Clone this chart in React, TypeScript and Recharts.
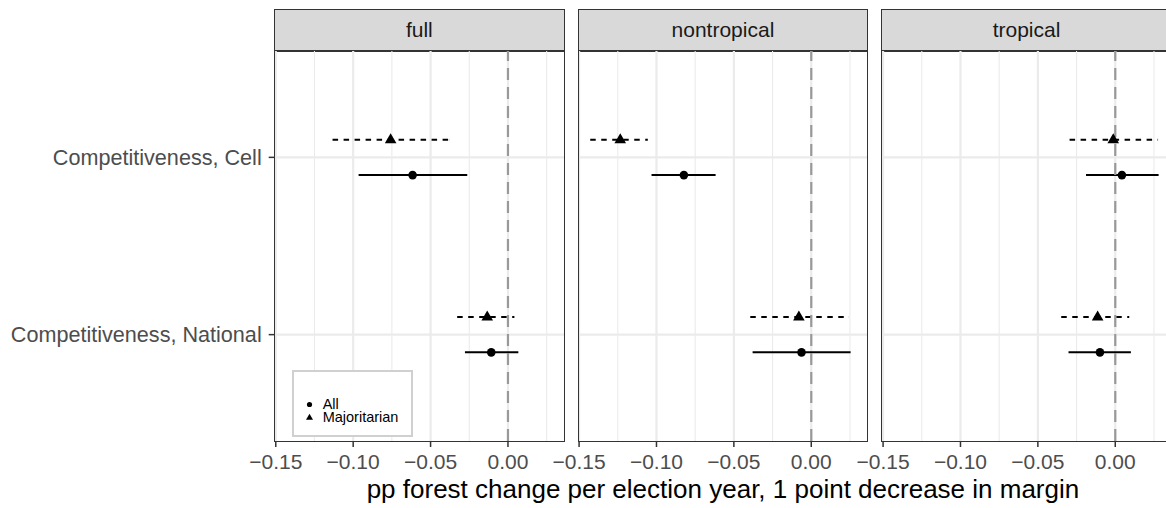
import React from "react";
import {
  ScatterChart,
  Scatter,
  XAxis,
  YAxis,
  CartesianGrid,
  ErrorBar,
  ReferenceLine,
} from "recharts";

const facets = ["full", "nontropical", "tropical"];
const terms = ["Competitiveness, Cell", "Competitiveness, National"];
const termPos = [2, 1];
const groups = ["All", "Majoritarian"];

// per facet, values ordered [Cell, National]
const allEst = [[-0.0616, -0.0108], [-0.0823, -0.0063], [0.0043, -0.0099]];
const allLo = [[-0.0965, -0.0278], [-0.1032, -0.0379], [-0.0189, -0.0302]];
const allHi = [[-0.0263, 0.0067], [-0.0618, 0.0254], [0.028, 0.0101]];
const majEst = [[-0.0758, -0.0134], [-0.1234, -0.008], [-0.0013, -0.0114]];
const majLo = [[-0.1133, -0.0328], [-0.1428, -0.0394], [-0.0295, -0.0349]];
const majHi = [[-0.0381, 0.0041], [-0.1056, 0.0243], [0.0276, 0.009]];

const xTicks = [-0.15, -0.1, -0.05, 0];
const xMinor = [-0.125, -0.075, -0.025, 0.025];
const xDomain = [-0.1507, 0.0362];
const yDomain = [0.4, 2.6];

const FONT = '"Liberation Sans", Arial, Helvetica, sans-serif';
const PANEL_LEFT = 274.7;
const PANEL_STEP = 303.6;
const PANEL_W = 289.3;
const PANEL_TOP = 51;
const PANEL_H = 390;
const AXIS_H = 67;
const PAD = 40;
const DODGE = 0.1;

type Row = { term: string; x: number; y: number; err: [number, number] };

function buildRows(est: number[][], lo: number[][], hi: number[][], f: number, offset: number): Row[] {
  return terms.map((term, i) => ({
    term,
    x: est[f][i],
    y: termPos[i] + offset,
    err: [est[f][i] - lo[f][i], hi[f][i] - est[f][i]],
  }));
}

const fmtX = (v: number) => (v === 0 ? "0.00" : (v < 0 ? "\u2212" : "") + Math.abs(v).toFixed(2));
const fmtY = (v: number) => terms[termPos.indexOf(v)] ?? "";

const Dot = (p: any) => <circle cx={p.cx} cy={p.cy} r={4.3} fill="#000" />;
const Tri = (p: any) => (
  <path
    d={`M${p.cx},${p.cy - 6.4} L${p.cx + 5.8},${p.cy + 3.6} L${p.cx - 5.8},${p.cy + 3.6} Z`}
    fill="#000"
  />
);

function Panel({ f }: { f: number }) {
  const first = f === 0;
  const left = PANEL_LEFT + f * PANEL_STEP;
  const chartLeft = first ? 0 : left - PAD;
  const width = first ? PANEL_LEFT + PANEL_W + PAD : PANEL_W + 2 * PAD;
  const allRows = buildRows(allEst, allLo, allHi, f, -DODGE);
  const majRows = buildRows(majEst, majLo, majHi, f, DODGE);

  return (
    <>
      <div
        style={{
          position: "absolute",
          left: left - 0.75,
          top: 9,
          width: PANEL_W + 1.5,
          height: 42.75,
          boxSizing: "border-box",
          background: "#D9D9D9",
          border: "1.5px solid #333333",
          color: "#1A1A1A",
          fontSize: 21,
          lineHeight: "40px",
          textAlign: "center",
        }}
      >
        {facets[f]}
      </div>
      <div style={{ position: "absolute", left: chartLeft, top: 0 }}>
        <ScatterChart
          width={width}
          height={PANEL_TOP + PANEL_H + AXIS_H}
          margin={{ top: PANEL_TOP, right: PAD, bottom: 0, left: first ? 0 : PAD }}
        >
          <CartesianGrid verticalValues={xMinor} horizontal={false} stroke="#EBEBEB" strokeWidth={1.1} />
          <CartesianGrid verticalValues={xTicks} horizontalValues={termPos} stroke="#EBEBEB" strokeWidth={2.2} />
          <XAxis
            type="number"
            dataKey="x"
            domain={xDomain}
            allowDataOverflow
            ticks={xTicks}
            interval={0}
            tickFormatter={fmtX}
            axisLine={false}
            tickSize={6}
            tickMargin={7}
            tickLine={{ stroke: "#333333", strokeWidth: 1.5 }}
            tick={{ fontSize: 21, fill: "#4D4D4D", fontFamily: FONT }}
            height={AXIS_H}
          />
          <YAxis
            type="number"
            dataKey="y"
            domain={yDomain}
            allowDataOverflow
            ticks={termPos}
            interval={0}
            tickFormatter={fmtY}
            hide={!first}
            width={PANEL_LEFT}
            axisLine={false}
            tickSize={6}
            tickMargin={7}
            tickLine={{ stroke: "#333333", strokeWidth: 1.5 }}
            tick={{ fontSize: 21.6, fill: "#4D4D4D", fontFamily: FONT }}
          />
          <Scatter name={groups[0]} data={allRows} shape={Dot} isAnimationActive={false}>
            <ErrorBar dataKey="err" direction="x" width={0} stroke="#000" strokeWidth={2} />
          </Scatter>
          <Scatter name={groups[1]} data={majRows} shape={Tri} isAnimationActive={false}>
            <ErrorBar
              dataKey="err"
              direction="x"
              width={0}
              stroke="#000"
              strokeWidth={2}
              strokeDasharray="5.5 5.5"
            />
          </Scatter>
          <ReferenceLine x={0} stroke="#999999" strokeWidth={2.2} strokeDasharray="12 7" />
        </ScatterChart>
      </div>
      <div
        style={{
          position: "absolute",
          left: left - 0.75,
          top: PANEL_TOP - 0.75,
          width: PANEL_W + 1.5,
          height: PANEL_H + 1.5,
          boxSizing: "border-box",
          border: "1.5px solid #333333",
          pointerEvents: "none",
        }}
      />
    </>
  );
}

function Key() {
  return (
    <div
      style={{
        position: "absolute",
        left: 291.7,
        top: 370,
        width: 121.6,
        height: 67.3,
        boxSizing: "border-box",
        border: "2px solid #D0D0D0",
        background: "#fff",
        fontSize: 14.5,
        color: "#000",
      }}
    >
      {groups.map((g, i) => (
        <div
          key={g}
          style={{ position: "absolute", left: 0, top: 26.3 + i * 13, width: 110, height: 13 }}
        >
          <svg width={30} height={13} style={{ position: "absolute", left: 0, top: 0 }}>
            {i === 0 ? (
              <circle cx={15.5} cy={6.5} r={2.6} fill="#000" />
            ) : (
              <path d="M15.5,2.7 L19,8.7 L12,8.7 Z" fill="#000" />
            )}
          </svg>
          <div
            style={{
              position: "absolute",
              left: 29,
              top: 0,
              height: 13,
              lineHeight: "13px",
              whiteSpace: "nowrap",
              overflow: "visible",
            }}
          >
            {g}
          </div>
        </div>
      ))}
    </div>
  );
}

export default function App() {
  return (
    <div
      style={{
        position: "absolute",
        left: 0,
        top: 0,
        width: 1166,
        height: 508,
        overflow: "hidden",
        background: "#fff",
        fontFamily: FONT,
      }}
    >
      {facets.map((_, f) => (
        <Panel key={f} f={f} />
      ))}
      <Key />
      <div
        style={{
          position: "absolute",
          left: PANEL_LEFT,
          top: 476,
          width: 2 * PANEL_STEP + PANEL_W,
          fontSize: 26,
          lineHeight: "26px",
          textAlign: "center",
          whiteSpace: "nowrap",
          color: "#000",
        }}
      >
        pp forest change per election year, 1 point decrease in margin
      </div>
    </div>
  );
}
